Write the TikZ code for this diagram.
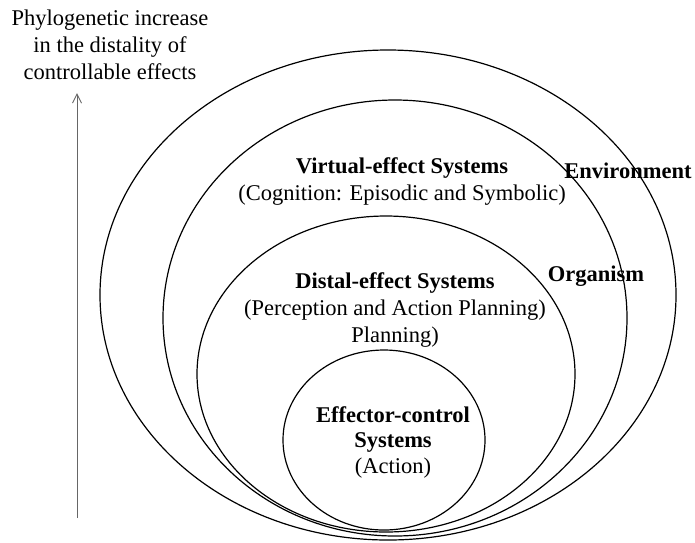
\documentclass[tikz,border=0pt]{standalone}
\usepackage{fontspec}
\setmainfont{Liberation Serif}
\usetikzlibrary{arrows.meta}
\begin{document}
\begin{tikzpicture}[x=1pt,y=-1pt,
  lbl/.style={font=\fontsize{22.5}{27}\selectfont, align=center, inner sep=0pt},
  ring/.style={draw=black, line width=1.2pt},
  axisarrow/.style={draw=black!60, line width=1pt, -{Straight Barb[length=9pt,width=9pt]}}]
\useasboundingbox (0,0) rectangle (695,542);
% ellipses
\draw[ring] (388,295) ellipse [x radius=288pt, y radius=245pt];
\draw[ring] (395,318) ellipse [x radius=232pt, y radius=218pt];
\draw[ring] (386,374) ellipse [x radius=189pt, y radius=158pt];
\draw[ring] (384,440) ellipse [x radius=101pt, y radius=90pt];
% labels
\node[lbl] (title) at (110,45) {Phylogenetic increase\\in the distality of\\controllable effects};
\node[lbl] (virtual) at (402,181) {\textbf{Virtual-effect Systems}\\(Cognition: Episodic and Symbolic)};
\node[lbl] (env) at (628,171) {\textbf{Environment}};
\node[lbl] (distal) at (395,310) {\textbf{Distal-effect Systems}\\(Perception and Action Planning)\\Planning)};
\node[lbl] (org) at (596,276) {\textbf{Organism}};
\node[lbl, font=\fontsize{22.5}{25.5}\selectfont] (effector) at (393,442) {\textbf{Effector-control}\\\textbf{Systems}\\(Action)};
% arrow
\coordinate (abot) at (77,518);
\coordinate (atop) at (77,93);
\draw[axisarrow] (abot) -- (atop);
\end{tikzpicture}
\end{document}
